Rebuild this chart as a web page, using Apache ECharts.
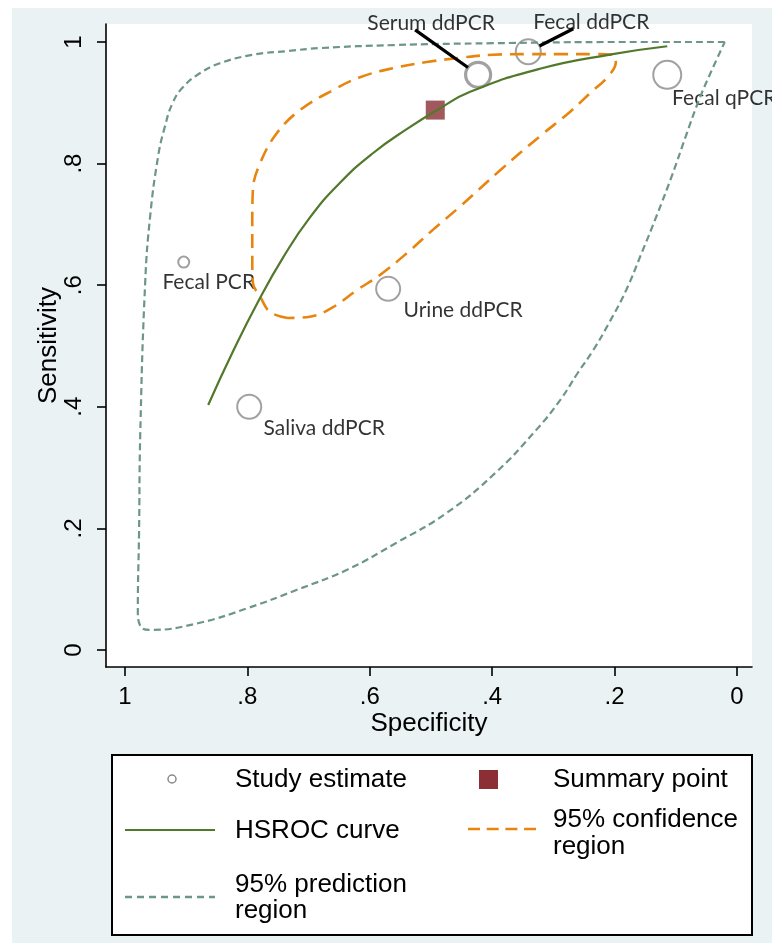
<!DOCTYPE html>
<html>
<head>
<meta charset="utf-8">
<script src="https://cdn.jsdelivr.net/npm/echarts@6/dist/echarts.min.js"></script>
<style>
html,body{margin:0;padding:0;background:#fff;}
#bg{position:absolute;left:12px;top:8px;width:760px;height:935px;background:#EAF2F3;}
#chart{position:absolute;left:0;top:0;width:772px;height:943px;}
</style>
</head>
<body>
<div id="bg"></div>
<div id="chart"></div>
<script>
// ---- data ----
const tickValues = [0, 0.2, 0.4, 0.6, 0.8, 1];
const tickLabels = ['0', '.2', '.4', '.6', '.8', '1'];

const studyNames = ['Fecal PCR', 'Saliva ddPCR', 'Urine ddPCR', 'Serum ddPCR', 'Fecal ddPCR', 'Fecal qPCR'];
const studySpec  = [0.904, 0.797, 0.570, 0.423, 0.341, 0.114];
const studySens  = [0.638, 0.400, 0.594, 0.946, 0.984, 0.946];

const summarySpec = [0.493];
const summarySens = [0.888];

const hsrocSpec = [0.864, 0.824, 0.783, 0.742, 0.698, 0.649, 0.595, 0.539, 0.490, 0.436, 0.322, 0.203, 0.114];
const hsrocSens = [0.403, 0.490, 0.572, 0.645, 0.711, 0.768, 0.817, 0.857, 0.888, 0.918, 0.956, 0.980, 0.993];

const confSpec = [0.734, 0.763, 0.779, 0.791, 0.792, 0.792, 0.791, 0.779, 0.752, 0.714, 0.660, 0.616, 0.562, 0.507, 0.453, 0.399, 0.343, 0.289, 0.235, 0.203, 0.198, 0.212, 0.240, 0.273, 0.322, 0.387, 0.453, 0.497, 0.539, 0.583, 0.621, 0.660, 0.698, 0.734];
const confSens = [0.546, 0.556, 0.581, 0.604, 0.646, 0.702, 0.757, 0.801, 0.850, 0.888, 0.921, 0.942, 0.957, 0.967, 0.974, 0.979, 0.980, 0.980, 0.980, 0.979, 0.967, 0.942, 0.916, 0.885, 0.845, 0.789, 0.729, 0.691, 0.653, 0.617, 0.592, 0.564, 0.548, 0.546];

const predSpec = [0.020, 0.191, 0.399, 0.560, 0.681, 0.735, 0.791, 0.845, 0.877, 0.905, 0.922, 0.935, 0.946, 0.959, 0.967, 0.975, 0.977, 0.979, 0.974, 0.958, 0.881, 0.799, 0.719, 0.637, 0.557, 0.475, 0.395, 0.328, 0.289, 0.260, 0.235, 0.209, 0.181, 0.157, 0.131, 0.106, 0.083, 0.062, 0.041, 0.020];
const predSens = [1.000, 1.000, 0.998, 0.995, 0.990, 0.985, 0.979, 0.965, 0.949, 0.926, 0.900, 0.860, 0.811, 0.712, 0.604, 0.357, 0.192, 0.066, 0.038, 0.033, 0.044, 0.069, 0.099, 0.132, 0.176, 0.225, 0.291, 0.362, 0.411, 0.456, 0.493, 0.538, 0.592, 0.650, 0.715, 0.781, 0.847, 0.905, 0.954, 1.000];

// ---- styles ----
const symbolSizeByName = {
  'Fecal PCR': 11, 'Saliva ddPCR': 24, 'Urine ddPCR': 24,
  'Serum ddPCR': 25, 'Fecal ddPCR': 25, 'Fecal qPCR': 28
};
const labelShift = {
  'Fecal PCR': [25, 20], 'Saliva ddPCR': [75, 21], 'Urine ddPCR': [75, 21],
  'Serum ddPCR': [-47, -52], 'Fecal ddPCR': [63, -29], 'Fecal qPCR': [57, 23]
};
// leader line: pixel offset of the label end from the marker centre
const leaderEnd = { 'Serum ddPCR': [-63, -45], 'Fecal ddPCR': [45, -23] };

const zip = (a, b) => a.map((v, i) => [v, b[i]]);
const tickFmt = v => {
  const i = tickValues.findIndex(t => Math.abs(t - v) < 1e-9);
  return i >= 0 ? tickLabels[i] : '';
};

const studyData = studyNames.map((n, i) => ({
  name: n,
  value: [studySpec[i], studySens[i]],
  symbolSize: symbolSizeByName[n],
  itemStyle: n === 'Serum ddPCR' ? { borderWidth: 3.2 } : undefined
}));
const leaderData = studyNames
  .map((n, i) => ({ name: n, value: [studySpec[i], studySens[i]] }))
  .filter(d => leaderEnd[d.name]);

const axisFont = 'Liberation Sans, Arial, sans-serif';
const lblFont = 'Lato, sans-serif';
const legFont = '26px Liberation Sans, Arial, sans-serif';

const chart = echarts.init(document.getElementById('chart'), null, { renderer: 'canvas' });
chart.setOption({
  backgroundColor: 'transparent',
  animation: false,
  grid: { left: 106, right: 20, top: 24, bottom: 276, show: true, backgroundColor: '#fff', borderWidth: 0 },
  xAxis: {
    type: 'value', inverse: true, min: -0.0245, max: 1.031,
    axisLine: { show: true, onZero: false, lineStyle: { color: '#000', width: 1.6 } },
    axisTick: { show: true, customValues: tickValues, length: 9, lineStyle: { color: '#000', width: 1.6 } },
    axisLabel: { customValues: tickValues, formatter: tickFmt, color: '#000', fontSize: 24, fontFamily: axisFont, margin: 18 },
    splitLine: { show: false },
    name: 'Specificity', nameLocation: 'middle', nameGap: 44, nameMoveOverlap: false,
    nameTextStyle: { color: '#000', fontSize: 26, fontFamily: axisFont }
  },
  yAxis: {
    type: 'value', min: -0.028, max: 1.0296,
    axisLine: { show: true, onZero: false, lineStyle: { color: '#000', width: 1.6 } },
    axisTick: { show: true, customValues: tickValues, length: 9, lineStyle: { color: '#000', width: 1.6 } },
    axisLabel: { customValues: tickValues, formatter: tickFmt, color: '#000', fontSize: 24, fontFamily: axisFont, rotate: 90, margin: 20 },
    splitLine: { show: false },
    name: 'Sensitivity', nameLocation: 'middle', nameGap: 44, nameMoveOverlap: false,
    nameTextStyle: { color: '#000', fontSize: 26, fontFamily: axisFont }
  },
  series: [
    {
      name: 'Study estimate', type: 'scatter', symbol: 'circle', z: 3,
      data: studyData,
      itemStyle: { color: 'rgba(255,255,255,0)', borderColor: '#8A8A8A', borderWidth: 2 },
      label: {
        show: true, position: 'inside', formatter: p => p.name,
        color: '#000', fontSize: 21, fontFamily: lblFont
      },
      labelLayout: p => {
        const s = labelShift[studyNames[p.dataIndex]];
        return { dx: s[0], dy: s[1] };
      },
      emphasis: { disabled: true }
    },
    {
      name: 'leaders', type: 'custom', z: 6, silent: true,
      data: leaderData,
      renderItem: (params, api) => {
        const d = leaderData[params.dataIndex];
        const c = api.coord([api.value(0), api.value(1)]);
        const off = leaderEnd[d.name];
        const len = Math.hypot(off[0], off[1]);
        const r = symbolSizeByName[d.name] / 2;
        return {
          type: 'line',
          shape: { x1: c[0] + off[0] * r / len, y1: c[1] + off[1] * r / len, x2: c[0] + off[0], y2: c[1] + off[1] },
          style: { stroke: '#000', lineWidth: 3.2 }
        };
      }
    },
    {
      name: 'Summary point', type: 'scatter', symbol: 'rect', symbolSize: 19, z: 3,
      data: zip(summarySpec, summarySens),
      itemStyle: { color: '#8B2F35' }, emphasis: { disabled: true }
    },
    {
      name: '95% prediction region', type: 'line', data: zip(predSpec, predSens), z: 4,
      showSymbol: false, smooth: 0.45, clip: false,
      lineStyle: { color: '#6C9688', width: 2.2, type: [7, 4] }
    },
    {
      name: '95% confidence region', type: 'line', data: zip(confSpec, confSens), z: 4,
      showSymbol: false, smooth: 0.4, clip: false,
      lineStyle: { color: '#E8850F', width: 2.6, type: [14, 8] }
    },
    {
      name: 'HSROC curve', type: 'line', data: zip(hsrocSpec, hsrocSens), z: 5,
      showSymbol: false, smooth: 0.5, clip: false,
      lineStyle: { color: '#52782C', width: 2.2 }
    }
  ],
  graphic: [
    { type: 'rect', shape: { x: 112, y: 755, width: 640, height: 180 }, style: { fill: '#fff', stroke: '#000', lineWidth: 2 }, z: 10 },
    { type: 'circle', shape: { cx: 172, cy: 779, r: 4 }, style: { fill: 'none', stroke: '#8A8A8A', lineWidth: 1.5 }, z: 11 },
    { type: 'text', x: 235, y: 780, style: { text: 'Study estimate', fill: '#000', font: legFont, verticalAlign: 'middle' }, z: 11 },
    { type: 'rect', shape: { x: 479, y: 770, width: 19, height: 19 }, style: { fill: '#8B2F35' }, z: 11 },
    { type: 'text', x: 553, y: 780, style: { text: 'Summary point', fill: '#000', font: legFont, verticalAlign: 'middle' }, z: 11 },
    { type: 'line', shape: { x1: 125, y1: 830, x2: 215, y2: 830 }, style: { stroke: '#52782C', lineWidth: 2.2 }, z: 11 },
    { type: 'text', x: 235, y: 831, style: { text: 'HSROC curve', fill: '#000', font: legFont, verticalAlign: 'middle' }, z: 11 },
    { type: 'line', shape: { x1: 468, y1: 829, x2: 536, y2: 829 }, style: { stroke: '#E8850F', lineWidth: 2.6, lineDash: [12, 6.7] }, z: 11 },
    { type: 'text', x: 553, y: 806, style: { text: '95% confidence\nregion', fill: '#000', font: legFont, lineHeight: 27, verticalAlign: 'top' }, z: 11 },
    { type: 'line', shape: { x1: 125, y1: 897, x2: 215, y2: 897 }, style: { stroke: '#6C9688', lineWidth: 2.4, lineDash: [7, 5] }, z: 11 },
    { type: 'text', x: 235, y: 872, style: { text: '95% prediction\nregion', fill: '#000', font: legFont, lineHeight: 26, verticalAlign: 'top' }, z: 11 }
  ]
});
</script>
</body>
</html>
